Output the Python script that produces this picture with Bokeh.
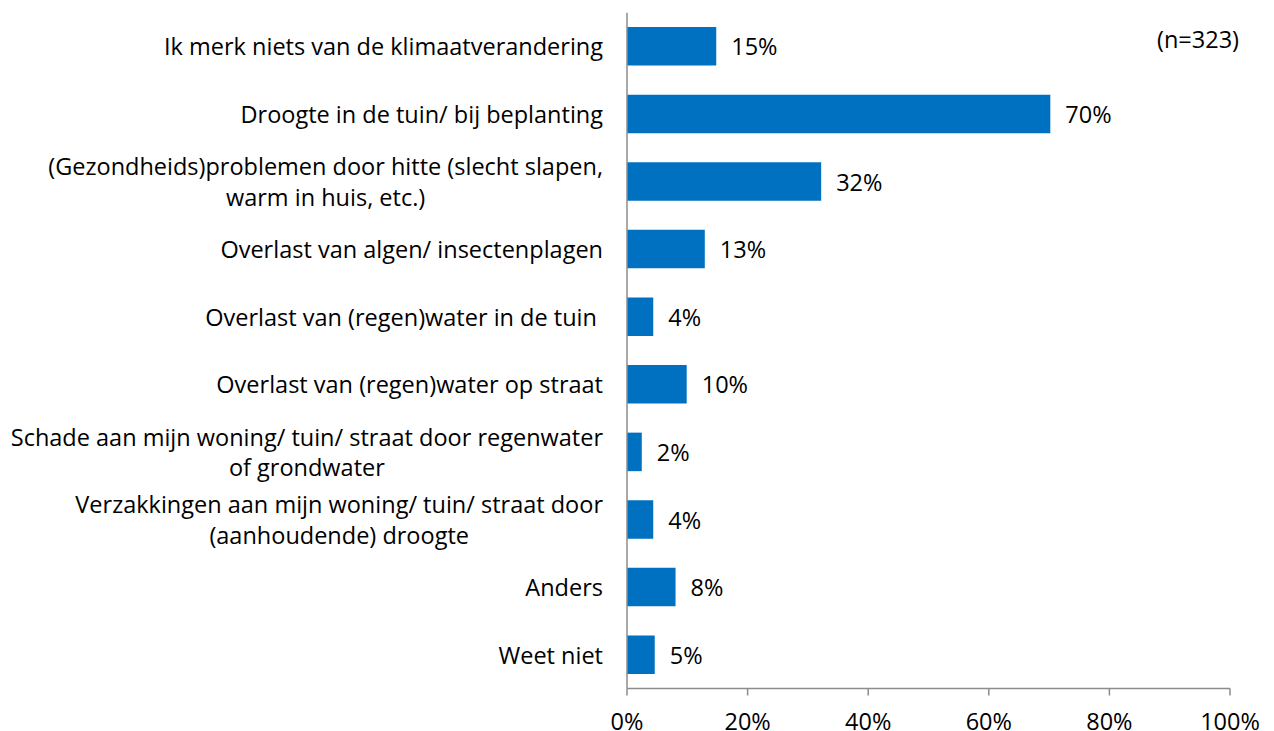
from bokeh.plotting import figure
from bokeh.models import Range1d, ColumnDataSource
from bokeh.core.properties import value
from bokeh.embed import file_html
from bokeh.resources import INLINE

categories = [
    "Ik merk niets van de klimaatverandering",
    "Droogte in de tuin/ bij beplanting",
    "(Gezondheids)problemen door hitte (slecht slapen,\nwarm in huis, etc.)",
    "Overlast van algen/ insectenplagen",
    "Overlast van (regen)water in de tuin ",
    "Overlast van (regen)water op straat",
    "Schade aan mijn woning/ tuin/ straat door regenwater\nof grondwater",
    "Verzakkingen aan mijn woning/ tuin/ straat door\n(aanhoudende) droogte",
    "Anders",
    "Weet niet",
]
values = [14.8, 70.2, 32.2, 12.9, 4.35, 9.9, 2.45, 4.35, 8.05, 4.6]
labels = [f"{round(v)}%" for v in values]
x_ticks = [0, 20, 40, 60, 80, 100]
x_tick_labels = ["0%", "20%", "40%", "60%", "80%", "100%"]
n_note = "(n=323)"

FONT = "Open Sans"
FS = "23.5px"
n = len(categories)
ypos = [n - 1 - i + 0.5 for i in range(n)]

W, H = 1274, 731
left_px, right_px = 626.5, 1229.5
scale = (right_px - left_px) / 100.0
x0 = -left_px / scale
x1 = (W - left_px) / scale
top_px, axis_px = 12.0, 688.0
row_px = (axis_px - top_px) / n
y0 = -(H - axis_px) / row_px

p = figure(width=W, height=H, output_backend="svg", toolbar_location=None,
           x_range=Range1d(x0, x1), y_range=Range1d(y0, n),
           x_axis_location=None, y_axis_location=None,
           min_border_left=0, min_border_right=0, min_border_top=int(top_px),
           min_border_bottom=0)
p.outline_line_color = None
p.grid.visible = False

src = ColumnDataSource(dict(y=ypos, v=values, lab=labels, cat=categories))
p.hbar(y="y", left=0, right="v", height=0.57, source=src,
       fill_color="#0070C0", line_color=None)

p.text(x="v", y="y", text="lab", source=src, x_offset=15,
       text_align="left", text_baseline="middle",
       text_font=value(FONT), text_font_size=FS, text_color="#000000")

p.text(x=0, y="y", text="cat", source=src, x_offset=-24,
       anchor="center_right", text_align="center", text_baseline="middle",
       text_font=value(FONT), text_font_size=FS, text_color="#000000",
       text_line_height=0.95)

p.text(x=[100], y=[n], text=[n_note], x_offset=9, y_offset=10,
       text_align="right", text_baseline="top",
       text_font=value(FONT), text_font_size=FS, text_color="#000000")

# vertical category axis line
p.segment(x0=[0], y0=[0], x1=[0], y1=[n], line_color="#8C8C8C", line_width=1.5)
# horizontal value axis line, ticks and tick labels
p.segment(x0=[0], y0=[0], x1=[100], y1=[0], line_color="#8C8C8C", line_width=1.5)
tick_src = ColumnDataSource(dict(x=x_ticks, y=[0] * len(x_ticks), lab=x_tick_labels))
p.ray(x="x", y="y", length=7, length_units="screen", angle=-90, angle_units="deg",
      source=tick_src, line_color="#8C8C8C", line_width=1.5)
p.text(x="x", y="y", text="lab", source=tick_src, y_offset=32,
       text_align="center", text_baseline="middle",
       text_font=value(FONT), text_font_size=FS, text_color="#000000")

open("out.html", "w").write(file_html(p, INLINE))
